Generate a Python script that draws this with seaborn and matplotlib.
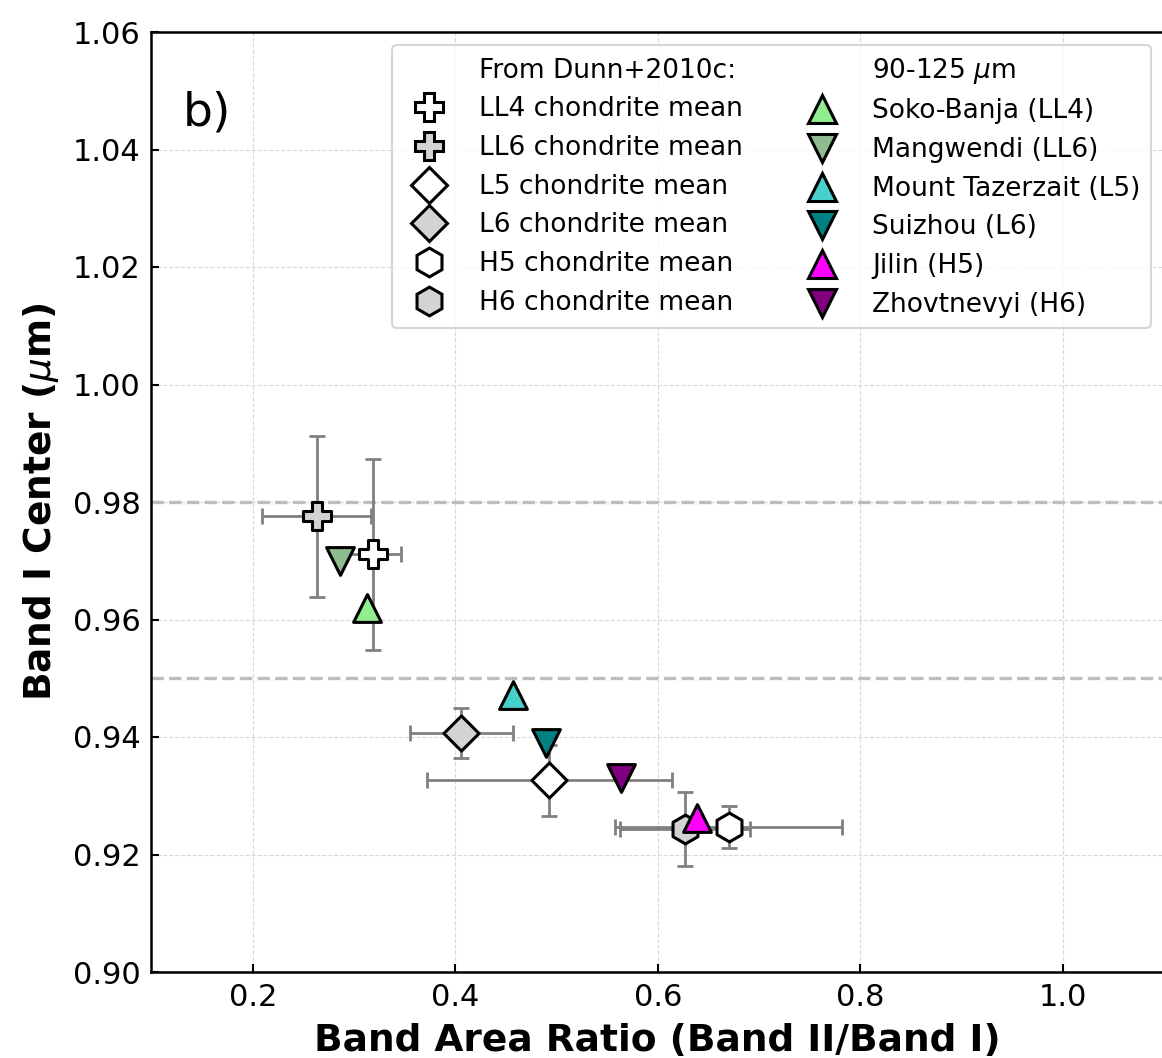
import matplotlib
matplotlib.use("Agg")
import matplotlib.pyplot as plt
from matplotlib.lines import Line2D
import seaborn as sns
import pandas as pd

# ---- data ----
mean_names = ["LL4 chondrite mean", "LL6 chondrite mean", "L5 chondrite mean",
              "L6 chondrite mean", "H5 chondrite mean", "H6 chondrite mean"]
mean_bar = [0.319, 0.263, 0.493, 0.406, 0.670, 0.627]
mean_bic = [0.9711, 0.9776, 0.9326, 0.9407, 0.9247, 0.9244]
mean_bar_err = [0.027, 0.054, 0.121, 0.051, 0.112, 0.064]
mean_bic_err = [0.0163, 0.0137, 0.0060, 0.0043, 0.0036, 0.0063]

met_names = ["Soko-Banja (LL4)", "Mangwendi (LL6)", "Mount Tazerzait (L5)",
             "Suizhou (L6)", "Jilin (H5)", "Zhovtnevyi (H6)"]
met_bar = [0.3125, 0.286, 0.4573, 0.490, 0.6385, 0.5634]
met_bic = [0.9620, 0.9700, 0.9471, 0.9390, 0.9262, 0.9330]

ref_lines = [0.98, 0.95]
x_ticks = [0.2, 0.4, 0.6, 0.8, 1.0]
y_ticks = [0.90, 0.92, 0.94, 0.96, 0.98, 1.00, 1.02, 1.04, 1.06]

# ---- styles ----
mean_markers = ["P", "P", "D", "D", "h", "h"]
mean_sizes = [400, 400, 320, 320, 430, 430]
mean_colors = ["white", "lightgray", "white", "lightgray", "white", "lightgray"]
met_markers = ["^", "v", "^", "v", "^", "v"]
met_colors = ["lightgreen", "darkseagreen", "mediumturquoise", "teal", "magenta", "purple"]

sns.set_style("white")
plt.rcParams["font.family"] = ["DejaVu Sans"]
plt.rcParams["mathtext.fontset"] = "dejavusans"
for k in ["text.color", "axes.labelcolor", "xtick.color", "ytick.color", "axes.edgecolor"]:
    plt.rcParams[k] = "black"

W, H = 1162, 1058
fig = plt.figure(figsize=(W / 100, H / 100), dpi=100)
ax = fig.add_axes([151.5 / W, 1 - 972 / H, (1164 - 151.5) / W, (972 - 32) / H])

ax.set_xlim(0.1, 1.1)
ax.set_ylim(0.90, 1.06)
ax.set_xticks(x_ticks)
ax.set_yticks(y_ticks)
ax.set_xticklabels([f"{v:.1f}" for v in x_ticks])
ax.set_yticklabels([f"{v:.2f}" for v in y_ticks])
ax.grid(True, color="#d8d8d8", linestyle="--", linewidth=0.8, zorder=0)
ax.set_axisbelow(True)

for yv in ref_lines:
    ax.axhline(yv, color="#bdbdbd", linestyle="--", linewidth=2.4, zorder=1)

ax.errorbar(mean_bar, mean_bic, xerr=mean_bar_err, yerr=mean_bic_err, fmt="none",
            ecolor="gray", elinewidth=2, capsize=6, capthick=2, zorder=2)

mean_df = pd.DataFrame({"bar": mean_bar, "bic": mean_bic, "name": mean_names})
for i in range(len(mean_df)):
    sns.scatterplot(data=mean_df.iloc[[i]], x="bar", y="bic", marker=mean_markers[i],
                    s=mean_sizes[i], color=mean_colors[i], edgecolor="black",
                    linewidth=2.2, zorder=3, ax=ax, legend=False)

met_df = pd.DataFrame({"bar": met_bar, "bic": met_bic, "name": met_names})
for i in range(len(met_df)):
    sns.scatterplot(data=met_df.iloc[[i]], x="bar", y="bic", marker=met_markers[i],
                    s=400, color=met_colors[i], edgecolor="black",
                    linewidth=2.2, zorder=4, ax=ax, legend=False)

# legend
handles = [Line2D([], [], linestyle="none", marker="", label="From Dunn+2010c:")]
for i, n in enumerate(mean_names):
    ms = (mean_sizes[i]) ** 0.5
    handles.append(Line2D([], [], linestyle="none", marker=mean_markers[i], markersize=ms,
                          markerfacecolor=mean_colors[i], markeredgecolor="black",
                          markeredgewidth=2.2, label=n))
handles.append(Line2D([], [], linestyle="none", marker="", label=r"90-125 $\mu$m"))
for i, n in enumerate(met_names):
    handles.append(Line2D([], [], linestyle="none", marker=met_markers[i], markersize=20,
                          markerfacecolor=met_colors[i], markeredgecolor="black",
                          markeredgewidth=2.2, label=n))
leg = ax.legend(handles=handles, loc="upper right", ncol=2, fontsize=19,
                labelspacing=0.48, handletextpad=0.9, frameon=True)
leg.get_frame().set_edgecolor("#cccccc")
leg.get_frame().set_linewidth(1.5)

ax.text(0.031, 0.901, "b)", transform=ax.transAxes, fontsize=34, va="baseline", ha="left")

ax.set_xlabel("Band Area Ratio (Band II/Band I)", fontsize=27, fontweight="bold", labelpad=8)
ax.set_ylabel(r"Band I Center ($\mu$m)", fontsize=27, fontweight="bold", labelpad=8)

ax.tick_params(axis="both", which="major", direction="in", length=6, width=1.5,
               labelsize=22, pad=8, bottom=True, left=True, top=False, right=False,
               colors="black")
for side in ["left", "bottom", "top", "right"]:
    ax.spines[side].set_linewidth(1.8)
    ax.spines[side].set_color("black")

fig.savefig("out.png", dpi=100)
